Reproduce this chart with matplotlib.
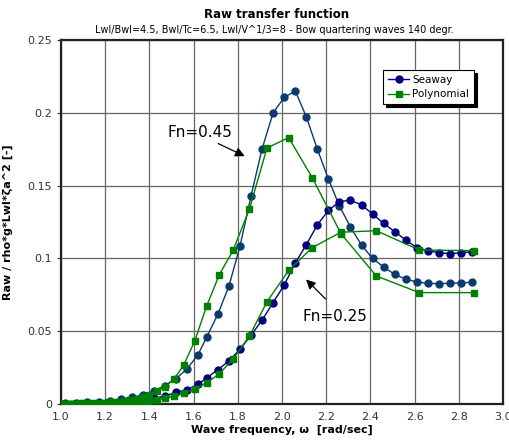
import matplotlib.pyplot as plt

# Seaway calculations (every ~0.05 rad/s)
omega_sw = [1.02, 1.07, 1.12, 1.17, 1.22, 1.27, 1.32, 1.37, 1.42, 1.47,
            1.52, 1.57, 1.62, 1.66, 1.71, 1.76, 1.81, 1.86, 1.91, 1.96,
            2.01, 2.06, 2.11, 2.16, 2.21, 2.26, 2.31, 2.36, 2.41, 2.46,
            2.51, 2.56, 2.61, 2.66, 2.71, 2.76, 2.81, 2.86]
sw_fn045 = [0.0005, 0.0008, 0.0012, 0.0017, 0.0024, 0.0033, 0.0045, 0.0062, 0.0089, 0.0126,
            0.0174, 0.0240, 0.0338, 0.0462, 0.0617, 0.0810, 0.1084, 0.1429, 0.1753, 0.2000,
            0.2106, 0.2150, 0.1973, 0.1750, 0.1545, 0.1360, 0.1215, 0.1090, 0.1000, 0.0940,
            0.0890, 0.0858, 0.0838, 0.0829, 0.0826, 0.0830, 0.0830, 0.0838]
sw_fn025 = [0.0001, 0.0002, 0.0003, 0.0005, 0.0008, 0.0012, 0.0018, 0.0026, 0.0038, 0.0055,
            0.0080, 0.0098, 0.0135, 0.0180, 0.0236, 0.0295, 0.0377, 0.0472, 0.0576, 0.0697,
            0.0817, 0.0968, 0.1094, 0.1230, 0.1330, 0.1390, 0.1400, 0.1367, 0.1305, 0.1240,
            0.1184, 0.1126, 0.1074, 0.1053, 0.1039, 0.1032, 0.1039, 0.1046]

# Polynomial fit points
omega_poly = [1.002, 1.015, 1.028, 1.041, 1.055, 1.069, 1.085, 1.100, 1.117, 1.134,
              1.153, 1.172, 1.192, 1.213, 1.235, 1.259, 1.283, 1.310, 1.338, 1.368,
              1.400, 1.435, 1.470, 1.512, 1.555, 1.605, 1.659, 1.716, 1.779, 1.853,
              1.932, 2.030, 2.137, 2.267, 2.427, 2.621, 2.869]
poly_fn045 = [0.0001, 0.0001, 0.0002, 0.0002, 0.0003, 0.0003, 0.0004, 0.0004, 0.0005, 0.0006,
              0.0007, 0.0008, 0.0009, 0.0011, 0.0013, 0.0016, 0.0020, 0.0027, 0.0036, 0.0048,
              0.0065, 0.0089, 0.0119, 0.0171, 0.0267, 0.0432, 0.0672, 0.0887, 0.1056, 0.1340,
              0.1758, 0.1830, 0.1554, 0.1170, 0.0879, 0.0765, 0.0765]
poly_fn025 = [0.0000, 0.0000, 0.0001, 0.0001, 0.0001, 0.0001, 0.0001, 0.0002, 0.0002, 0.0002,
              0.0003, 0.0003, 0.0004, 0.0004, 0.0005, 0.0006, 0.0008, 0.0010, 0.0013, 0.0017,
              0.0022, 0.0029, 0.0039, 0.0055, 0.0073, 0.0100, 0.0146, 0.0207, 0.0309, 0.0467,
              0.0702, 0.0917, 0.1074, 0.1180, 0.1190, 0.1058, 0.1053]

x_ticks = [1.0, 1.2, 1.4, 1.6, 1.8, 2.0, 2.2, 2.4, 2.6, 2.8, 3.0]
y_ticks = [0, 0.05, 0.1, 0.15, 0.2, 0.25]
y_labels = ['0', '0.05', '0.1', '0.15', '0.2', '0.25']

fig = plt.figure(figsize=(5.09, 4.41), dpi=100)
ax = fig.add_axes([0.1198, 0.0839, 0.8684, 0.8254])

dark_blue = '#0b3a6e'
navy = '#000080'
green = '#008000'

ax.plot(omega_sw, sw_fn045, '-o', color=dark_blue, lw=1, ms=5, zorder=3)
ax.plot(omega_sw, sw_fn025, '-o', color=navy, lw=1, ms=5, zorder=3, label='Seaway')
ax.plot(omega_poly, poly_fn045, '-s', color=green, lw=1, ms=5, zorder=4, label='Polynomial')
ax.plot(omega_poly, poly_fn025, '-s', color=green, lw=1, ms=5, zorder=4)

ax.set_xlim(1.0, 3.0)
ax.set_ylim(0, 0.25)
ax.set_xticks(x_ticks)
ax.set_xticklabels(['%.1f' % t for t in x_ticks])
ax.set_yticks(y_ticks)
ax.set_yticklabels(y_labels)
ax.tick_params(axis='both', labelsize=8, labelcolor='#333333', color='#333333')
ax.tick_params(axis='x', length=0, pad=6)
ax.tick_params(axis='y', length=3)
ax.grid(True, color='#666666', lw=0.9)
ax.set_axisbelow(True)
for s in ax.spines.values():
    s.set_linewidth(1.6)
    s.set_color('#222222')

ax.set_xlabel('Wave frequency, \u03c9  [rad/sec]', fontsize=8, fontweight='bold', labelpad=2)
ax.set_ylabel('Raw / rho*g*Lwl*\u03b6a^2 [-]', fontsize=8, fontweight='bold', labelpad=10)

fig.text(0.543, 0.967, 'Raw transfer function', ha='center', va='center',
         fontsize=8.5, fontweight='bold')
fig.text(0.539, 0.933, 'Lwl/Bwl=4.5, Bwl/Tc=6.5, Lwl/V^1/3=8 - Bow quartering waves 140 degr.',
         ha='center', va='center', fontsize=7)

arrow = dict(arrowstyle='-|>', color='black', lw=0.9, mutation_scale=14)
ax.annotate('', xy=(1.843, 0.1694), xytext=(1.70, 0.1797), arrowprops=arrow)
ax.text(1.628, 0.1866, 'Fn=0.45', ha='center', va='center', fontsize=11)
ax.annotate('', xy=(2.10, 0.0869), xytext=(2.206, 0.0708), arrowprops=arrow)
ax.text(2.24, 0.0604, 'Fn=0.25', ha='center', va='center', fontsize=11)

leg = ax.legend(loc='upper left', bbox_to_anchor=(0.729, 0.918), borderaxespad=0,
                fontsize=7.5, fancybox=False, edgecolor='black', framealpha=1,
                shadow={'color': 'black', 'alpha': 1, 'ox': 2, 'oy': -2},
                handlelength=2.0, handletextpad=0.3, borderpad=0.5, labelspacing=0.4)
leg.get_frame().set_linewidth(0.8)

fig.savefig('out.png', dpi=100)
